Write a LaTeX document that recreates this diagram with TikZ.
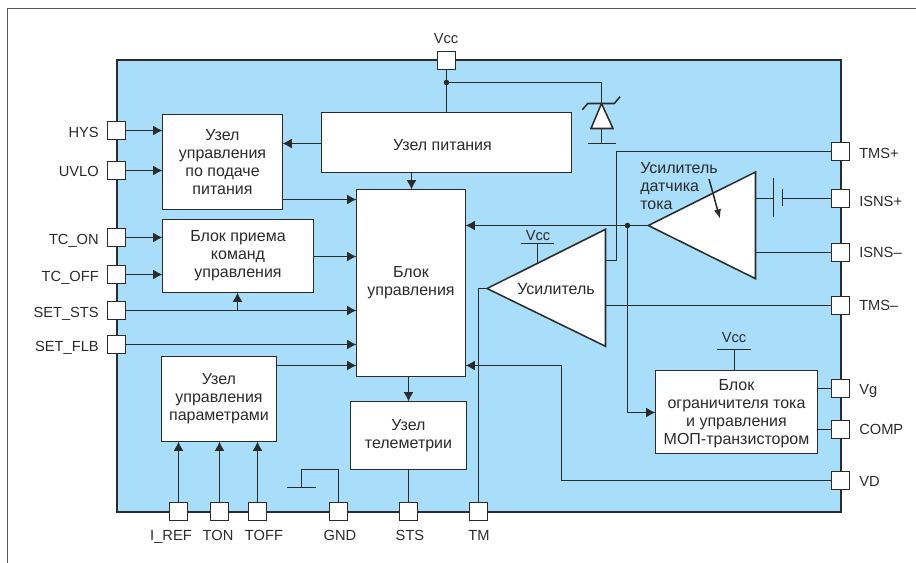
\documentclass[tikz,border=0pt]{standalone}
\usepackage{fontspec}
\setmainfont{Liberation Sans}
\usetikzlibrary{arrows.meta,calc}
\definecolor{chipblue}{HTML}{A9DEFB}
\definecolor{ink}{HTML}{2B2B2B}
\tikzset{
  x=0.75pt,y=-0.75pt,
  wire/.style={draw=ink,line width=1.15pt},
  arr/.style={wire,-{Latex[length=7pt,width=7.5pt]}},
  every node/.style={font=\fontsize{11}{13.5}\selectfont,text=ink},
  blocktext/.style={font=\fontsize{12}{13.5}\selectfont},
  blockbox/.style={blocktext,draw=ink,line width=1.15pt,fill=white,inner sep=0pt,outer sep=0pt,align=center},
  pinbox/.style={draw=ink,line width=1.15pt,fill=white,inner sep=0pt,outer sep=0pt,minimum size=13.5pt},
  lname/.style={anchor=base east,inner sep=0pt},
  rname/.style={anchor=base west,inner sep=0pt},
  cname/.style={anchor=base,inner sep=0pt},
  free/.style={blocktext,inner sep=0pt,align=center},
  amp/.style={draw=ink,line width=1.15pt,fill=white,line join=miter},
  jdot/.style={circle,fill=ink,inner sep=0pt,minimum size=4.2pt,outer sep=0pt},
  wh/.style 2 args={minimum width=#1*0.75pt,minimum height=#2*0.75pt},
}
\begin{document}
\begin{tikzpicture}
\useasboundingbox (0,0) rectangle (916,563);
% page frame
\draw[draw=ink!80,line width=1.2pt] (916,8.5) -- (7.5,8.5) -- (7.5,563);
% chip
\path[fill=chipblue,draw=ink,line width=1.5pt] (116.5,60.5) rectangle (840.5,511.5);

% pins
\node[pinbox] (vccp) at (446.5,60.5) {};
\node[pinbox] (hys) at (116.5,130.5) {};
\node[pinbox] (uvlo) at (116.5,170.5) {};
\node[pinbox] (tcon) at (116.5,237.5) {};
\node[pinbox] (tcoff) at (116.5,274.5) {};
\node[pinbox] (setsts) at (116.5,310.5) {};
\node[pinbox] (setflb) at (116.5,344.5) {};
\node[pinbox] (iref) at (178.5,511.5) {};
\node[pinbox] (ton) at (219.5,511.5) {};
\node[pinbox] (toff) at (257.5,511.5) {};
\node[pinbox] (gnd) at (338.5,511.5) {};
\node[pinbox] (sts) at (408.5,511.5) {};
\node[pinbox] (tm) at (478.5,511.5) {};
\node[pinbox] (tmsp) at (840.5,151.5) {};
\node[pinbox] (isnsp) at (840.5,198.5) {};
\node[pinbox] (isnsm) at (840.5,252.5) {};
\node[pinbox] (tmsm) at (840.5,305.5) {};
\node[pinbox] (vg) at (840.5,388.5) {};
\node[pinbox] (comp) at (840.5,429.5) {};
\node[pinbox] (vd) at (840.5,480.5) {};

% pin names
\node[cname] (nvcc) at (446,44) {Vcc};
\node[lname] (nhys) at (99,137.5) {HYS};
\node[lname] (nuvlo) at (99,176.5) {UVLO};
\node[lname] (ntcon) at (99,244.5) {TC\_ON};
\node[lname] (ntcoff) at (99,281.5) {TC\_OFF};
\node[lname] (nsetsts) at (99,317) {SET\_STS};
\node[lname] (nsetflb) at (99,351.5) {SET\_FLB};
\node[cname] (niref) at (171,540.5) {I\_REF};
\node[cname] (nton) at (218,540.5) {TON};
\node[cname] (ntoff) at (264,540.5) {TOFF};
\node[cname] (ngnd) at (340,540.5) {GND};
\node[cname] (nsts) at (410,540.5) {STS};
\node[cname] (ntm) at (479,540.5) {TM};
\node[rname] (ntmsp) at (859,158) {TMS+};
\node[rname] (nisnsp) at (859,206) {ISNS+};
\node[rname] (nisnsm) at (859,257.7) {ISNS–};
\node[rname] (ntmsm) at (859,310.7) {TMS–};
\node[rname] (nvg) at (859,394) {Vg};
\node[rname] (ncomp) at (859,434) {COMP};
\node[rname] (nvd) at (859,486) {VD};

% blocks
\node[blockbox,wh={120}{95}] (pwr) at (222.5,162) {Узел\\управления\\по подаче\\питания};
\node[blockbox,wh={151}{73}] (cmd) at (238,256) {Блок приема\\команд\\управления};
\node[blockbox,wh={250}{60}] (sup) at (446.5,142.5) {\rule{0pt}{12pt}Узел питания\hspace*{6pt}};
\node[blockbox,wh={109}{187}] (ctl) at (411,283) {Блок\\управления};
\node[blockbox,wh={115}{85}] (par) at (219,399) {Узел\\управления\\параметрами};
\node[blockbox,wh={116}{68}] (tel) at (408.5,435.5) {Узел\\телеметрии};
\node[blockbox,wh={162}{83}] (lim) at (736.5,412) {\rule{0pt}{10.5pt}Блок\\ограничителя тока\\и управления\\МОП-транзистором};

% amplifiers
\coordinate (atip) at (487,288.5);
\coordinate (stip) at (648.3,225.5);
\draw[amp] (atip) -- (605.5,229.3) -- (605.5,346.3) -- cycle;
\draw[amp] (stip) -- (755.5,172) -- (755.5,278.7) -- cycle;
\node[free] (lamp) at (556,289) {Усилитель};
\node[free,align=left,anchor=north west] (lsens) at (640,162) {Усилитель\\датчика\\тока};
\draw[arr,-{Latex[length=7pt,width=5.5pt]}] (709,179) -- (720,218.7);

% supply and zener
\node[jdot] (jvcc) at (446.5,82.5) {};
\coordinate (zk) at (601.5,103.5);
\draw[wire] (vccp) -- (jvcc);
\draw[wire] (jvcc) -- (jvcc |- sup.north);
\draw[wire] (jvcc) -| (zk);
\draw[amp] (zk) -- (591,128.5) -- (613,128.5) -- cycle;
\draw[wire] (582.3,109.7) -- (587.7,103.5) -- (614.3,103.5) -- (620,96.7);
\coordinate (zg) at (601.5,143.5);
\draw[wire] (601.5,128.5) -- (zg);
\draw[wire] (587.7,143.5) -- (616,143.5);

% inputs on the left
\draw[arr] (hys) -- (hys -| pwr.west);
\draw[arr] (uvlo) -- (uvlo -| pwr.west);
\draw[arr] (tcon) -- (tcon -| cmd.west);
\draw[arr] (tcoff) -- (tcoff -| cmd.west);
\draw[arr] (setsts) -- (setsts -| ctl.west);
\draw[arr] (setflb) -- (setflb -| ctl.west);
\coordinate (jsts) at (237.5,310.5);
\draw[arr] (jsts) -- (jsts |- cmd.south);

% between blocks
\coordinate (a1) at (300,143.5);
\draw[arr] (a1 -| sup.west) -- (a1 -| pwr.east);
\coordinate (a2) at (411.5,172);
\draw[arr] (a2 |- sup.south) -- (a2 |- ctl.north);
\coordinate (a3) at (300,199.5);
\draw[arr] (a3 -| pwr.east) -- (a3 -| ctl.west);
\coordinate (a4) at (330,256.5);
\draw[arr] (a4 -| cmd.east) -- (a4 -| ctl.west);
\coordinate (a5) at (300,365.5);
\draw[arr] (a5 -| par.east) -- (a5 -| ctl.west);
\draw[arr] (sts |- ctl.south) -- (sts |- tel.north);

% bottom pins
\draw[arr] (iref) -- (iref |- par.south);
\draw[arr] (ton) -- (ton |- par.south);
\draw[arr] (toff) -- (toff |- par.south);
\draw[wire] (sts) -- (sts |- tel.south);
\coordinate (g1) at (338.5,469.5);
\coordinate (g2) at (301.5,469.5);
\coordinate (g3) at (301.5,487.5);
\draw[wire] (gnd) -- (g1) -- (g2) -- (g3);
\draw[wire] (287,487.5) -- (316,487.5);
\draw[wire] (tm) |- (atip);

% sense amplifier connections
\node[jdot] (jsens) at (627.5,225.5) {};
\draw[arr] (stip) -- (stip -| ctl.east);
\coordinate (limin) at (627.5,412.5);
\draw[wire] (jsens) -- (limin);
\draw[arr] (limin) -- (limin -| lim.west);
\coordinate (aout) at (605.5,260.5);
\coordinate (akn) at (616.5,260.5);
\draw[wire] (aout) -- (akn) |- (tmsp);
\draw[wire] (605.5,305.5) -- (tmsm);
\coordinate (ck1) at (773.5,198.5);
\coordinate (ck2) at (782.5,198.5);
\draw[wire] (755.5,198.5) -- (ck1);
\draw[wire] (ck2) -- (isnsp);
\draw[wire] (773.5,178.3) -- (773.5,217.3);
\draw[wire] (782.5,189) -- (782.5,206.3);
\draw[wire] (755.5,252.5) -- (isnsm);

% Vcc stubs
\node[cname] (vcca) at (538,240) {Vcc};
\draw[wire] (521,243.5) -- (554,243.5);
\draw[wire] (537.5,243.5) -- (537.5,262.7);
\node[cname] (vccl) at (734,342) {Vcc};
\draw[wire] (717.3,349.5) -- (750.7,349.5);
\draw[wire] (734.5,349.5) -- (734.5,370.5);

% limiter and VD
\draw[wire] (vg -| lim.east) -- (vg);
\draw[wire] (comp -| lim.east) -- (comp);
\coordinate (vd1) at (561.5,480.5);
\coordinate (vd2) at (561.5,365.5);
\draw[wire] (vd) -- (vd1) -- (vd2);
\draw[arr] (vd2) -- (vd2 -| ctl.east);
\end{tikzpicture}
\end{document}
